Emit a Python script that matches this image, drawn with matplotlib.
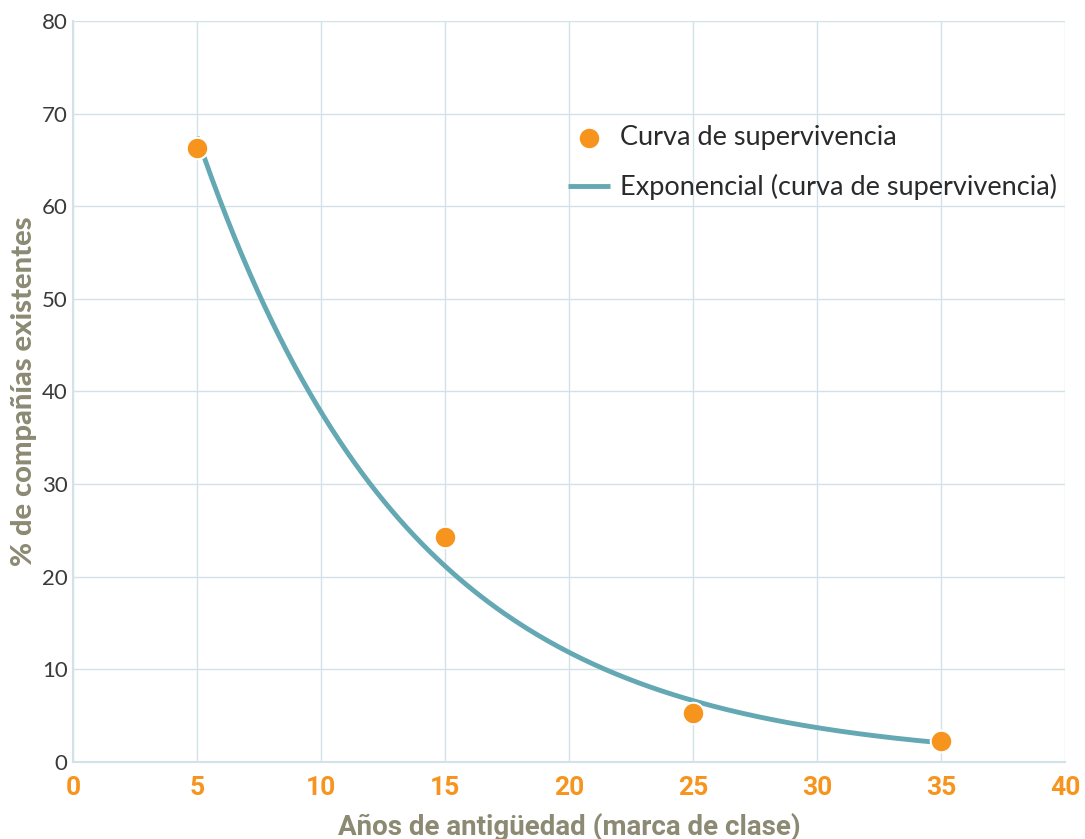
import numpy as np
import matplotlib
matplotlib.use("Agg")
import matplotlib.pyplot as plt

years = [5, 15, 25, 35]
pct = [66.3, 24.3, 5.3, 2.3]
xticks = [0, 5, 10, 15, 20, 25, 30, 35, 40]
yticks = [0, 10, 20, 30, 40, 50, 60, 70, 80]

orange = "#F7941D"
teal = "#64A8B4"
grid_c = "#D3E2E8"
label_c = "#8C8A73"

fig = plt.figure(figsize=(10.85, 8.39), dpi=100)
ax = fig.add_axes([0.0673, 0.0918, 0.9143, 0.8832])

# exponential trendline fitted to data (Excel-style log-linear fit)
b, ln_a = np.polyfit(years, np.log(pct), 1)
xs = np.linspace(min(years), max(years), 200)
ax.plot(xs, np.exp(ln_a) * np.exp(b * xs), color=teal, lw=3.5, zorder=3,
        label="Exponencial (curva de supervivencia)", solid_capstyle="butt")
ax.scatter(years, pct, s=240, color=orange, edgecolor="white", linewidth=1.5,
           zorder=4, label="Curva de supervivencia")

ax.set_xlim(0, 40)
ax.set_ylim(0, 80)
ax.set_xticks(xticks)
ax.set_yticks(yticks)
ax.grid(True, color=grid_c, lw=1)
ax.set_axisbelow(True)
for s in ["top", "right"]:
    ax.spines[s].set_visible(False)
for s in ["left", "bottom"]:
    ax.spines[s].set_color(grid_c)
    ax.spines[s].set_linewidth(1.5)
ax.tick_params(length=0, pad=4)
for t in ax.get_yticklabels():
    t.set_fontfamily("Lato")
    t.set_fontweight("normal")
    t.set_fontsize(16)
    t.set_color("#3a3a3a")
for t in ax.get_xticklabels():
    t.set_fontfamily("Roboto")
    t.set_fontweight("bold")
    t.set_fontsize(19)
    t.set_color(orange)
ax.tick_params(axis="x", pad=10)

ax.set_xlabel("Años de antigüedad (marca de clase)", fontsize=20, fontweight="bold",
              color=label_c, family="Roboto", labelpad=9)
ax.set_ylabel("% de compañías existentes", fontsize=21, fontweight="black",
              color=label_c, family="Lato", labelpad=3.5)

h, l = ax.get_legend_handles_labels()
leg = ax.legend([h[1], h[0]], [l[1], l[0]], loc="upper left",
                bbox_to_anchor=(0.474, 0.893), frameon=False,
                prop={"family": "Lato", "size": 19.5}, handlelength=1.55,
                handletextpad=0.37, labelspacing=0.9, markerscale=1.0)
for t in leg.get_texts():
    t.set_color("#2a2a2a")

fig.savefig("out.png", dpi=100)
